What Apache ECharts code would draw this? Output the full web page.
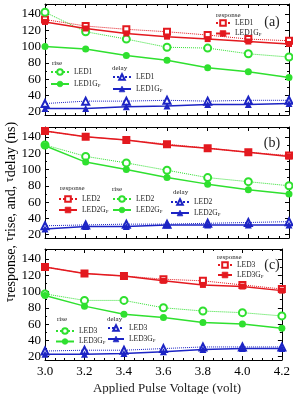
<!DOCTYPE html>
<html>
<head>
<meta charset="utf-8">
<script src="https://cdn.jsdelivr.net/npm/echarts@6/dist/echarts.min.js"></script>
<style>
  html, body { margin: 0; padding: 0; background: #fff; }
  #chart { width: 293px; height: 394px; }
</style>
</head>
<body>
<div id="chart"></div>
<script>
const voltages = [3.0, 3.2, 3.4, 3.6, 3.8, 4.0, 4.2]
const yLabelValues = [20, 40, 60, 80, 100, 120, 140]
const yMinorValues = [30, 50, 70, 90, 110, 130, 150]

// panel (a)
const respLED1 = [133, 125, 121, 118, 114, 109, 107]
const respLED1G = [130, 122, 116, 112, 109, 106, 103]
const riseLED1 = [142, 118, 109, 99, 98, 91, 87]
const riseLED1G = [100, 97, 89, 83, 74, 69, 62]
const delayLED1 = [30, 33, 33, 34, 33, 34, 34]
const delayLED1G = [24, 24, 26, 27, 29, 29, 30]

// panel (b)
const respLED2 = [147, 140, 136, 131, 126, 121, 117]
const respLED2G = [147, 140, 136, 130, 126, 121, 116]
const riseLED2 = [130, 116, 108, 99, 90, 85, 80]
const riseLED2G = [129, 109, 100, 90, 82, 75, 70]
const delayLED2 = [31, 32, 33, 33, 34, 35, 36]
const delayLED2G = [27, 30, 30, 32, 32, 32, 32]

// panel (c)
const respLED3 = [130, 122, 119, 115, 113, 108, 103]
const respLED3G = [130, 122, 119, 113, 108, 106, 101]
const riseLED3 = [97, 89, 89, 80, 76, 74, 70]
const riseLED3G = [95, 82, 72, 68, 62, 60, 55]
const delayLED3 = [27, 28, 28, 30, 32, 32, 32]
const delayLED3G = [23, 23, 24, 26, 29, 30, 30]

const FONT = 'Liberation Serif'
const RED = '#e3191f'
const GREEN = '#2fe02f'
const BLUE = '#1c24c4'
const gridTops = [4, 127, 249]

const pairs = (vals) => voltages.map((v, i) => [v, vals[i]])

const grid = gridTops.map(t => ({ left: 45, width: 244, top: t, height: 111 }))

const xAxis = []
const yAxis = []
gridTops.forEach((t, g) => {
  ['bottom', 'top'].forEach(pos => {
    xAxis.push({
      gridIndex: g,
      type: 'value',
      position: pos,
      min: 3,
      max: 4.2,
      interval: 0.2,
      axisLine: { show: true, onZero: false, lineStyle: { color: '#000', width: 1 } },
      axisTick: { show: true, inside: true, length: 4, lineStyle: { color: '#000' } },
      minorTick: { show: true, splitNumber: 4, length: 2, lineStyle: { color: '#000' } },
      axisLabel: {
        show: g === 2 && pos === 'bottom',
        fontFamily: FONT,
        fontSize: 13,
        color: '#000',
        margin: 5,
        formatter: v => v.toFixed(1)
      },
      splitLine: { show: false }
    })
  });
  ['left', 'right'].forEach(pos => {
    yAxis.push({
      gridIndex: g,
      type: 'value',
      position: pos,
      min: 16,
      max: 152,
      axisLine: { show: true, lineStyle: { color: '#000', width: 1 } },
      axisTick: { show: true, inside: true, length: 4, customValues: yLabelValues, lineStyle: { color: '#000' } },
      axisLabel: {
        show: pos === 'left',
        customValues: yLabelValues,
        fontFamily: FONT,
        fontSize: 13,
        color: '#000',
        margin: 4
      },
      splitLine: { show: false }
    })
    yAxis.push({
      gridIndex: g,
      type: 'value',
      position: pos,
      min: 16,
      max: 152,
      axisLine: { show: false },
      axisTick: { show: true, inside: true, length: 2, customValues: yMinorValues, lineStyle: { color: '#000' } },
      axisLabel: { show: false },
      splitLine: { show: false }
    })
  })
})

const labels = {}
const series = []
function addSeries (name, label, g, vals, color, symbol, hollow, size) {
  labels[name] = label
  series.push({
    name,
    type: 'line',
    xAxisIndex: g * 2,
    yAxisIndex: g * 4,
    data: pairs(vals),
    symbol,
    symbolSize: size,
    color,
    lineStyle: { color, width: hollow ? 1 : 1.5, type: hollow ? 'dotted' : 'solid' },
    itemStyle: { color, borderColor: color, borderWidth: hollow ? 0.8 : 0 },
    clip: false,
    z: hollow ? 2 : 3
  })
}

const sets = [
  ['1', [respLED1, respLED1G, riseLED1, riseLED1G, delayLED1, delayLED1G]],
  ['2', [respLED2, respLED2G, riseLED2, riseLED2G, delayLED2, delayLED2G]],
  ['3', [respLED3, respLED3G, riseLED3, riseLED3G, delayLED3, delayLED3G]]
]
sets.forEach(([n, d], g) => {
  addSeries('resp' + n, 'LED' + n, g, d[0], RED, 'emptyRect', true, 6)
  addSeries('respG' + n, 'LED' + n + 'G{p|P}', g, d[1], RED, 'rect', false, 6)
  addSeries('rise' + n, 'LED' + n, g, d[2], GREEN, 'emptyCircle', true, 7)
  addSeries('riseG' + n, 'LED' + n + 'G{p|P}', g, d[3], GREEN, 'circle', false, 7)
  addSeries('delay' + n, 'LED' + n, g, d[4], BLUE, 'emptyTriangle', true, 7)
  addSeries('delayG' + n, 'LED' + n + 'G{p|P}', g, d[5], BLUE, 'triangle', false, 7)
})

function legend (left, top, names, itemWidth, gap) {
  return {
    left,
    top,
    orient: 'vertical',
    padding: 0,
    itemWidth,
    itemHeight: 7,
    itemGap: gap,
    selectedMode: false,
    data: names,
    itemStyle: { borderWidth: 0.8 },
    formatter: name => labels[name],
    textStyle: {
      fontFamily: FONT,
      fontSize: 7.5,
      lineHeight: 8,
      color: '#222',
      rich: { p: { fontSize: 5, lineHeight: 8, verticalAlign: 'bottom', padding: [4, 0, 0, 0] } }
    }
  }
}

const legends = [
  legend(215, 19, ['resp1', 'respG1'], 14, 1.5),
  legend(50, 68, ['rise1', 'riseG1'], 18, 3),
  legend(112, 73, ['delay1', 'delayG1'], 18, 3),
  legend(58, 195, ['resp2', 'respG2'], 18, 2),
  legend(112, 195, ['rise2', 'riseG2'], 18, 2),
  legend(170, 198, ['delay2', 'delayG2'], 18, 2),
  legend(217, 261, ['resp3', 'respG3'], 14, 1),
  legend(55, 327, ['rise3', 'riseG3'], 18, 1.5),
  legend(107, 324, ['delay3', 'delayG3'], 16, 2)
]

function txt (x, y, text, size, align) {
  return {
    type: 'text',
    x,
    y,
    style: { text, fontFamily: FONT, fontSize: size, fill: '#222', align: align || 'left', verticalAlign: 'middle' }
  }
}

const graphic = [
  txt(216, 15, 'response', 7), txt(52, 63, 'rise', 7), txt(112, 68, 'delay', 7),
  txt(60, 188, 'response', 7), txt(112, 189, 'rise', 7), txt(173, 192, 'delay', 7),
  txt(217, 257, 'response', 7), txt(57, 319, 'rise', 7), txt(107, 319, 'delay', 7),
  txt(272, 22, '(a)', 14, 'center'), txt(272, 143, '(b)', 14, 'center'), txt(272, 265, '(c)', 14, 'center'),
  txt(167, 389, 'Applied Pulse Voltage (volt)', 13, 'center'),
  {
    type: 'text',
    x: 11,
    y: 212,
    rotation: Math.PI / 2,
    style: {
      text: '{t|τ}{n|response, }{t|τ}{n|rise, and, }{t|τ}{n|delay (ns)}',
      align: 'center',
      verticalAlign: 'middle',
      fill: '#000',
      rich: {
        t: { fontFamily: FONT, fontSize: 12, lineHeight: 12, verticalAlign: 'top' },
        n: { fontFamily: FONT, fontSize: 14, lineHeight: 14, verticalAlign: 'bottom', padding: [4, 0, 0, 0] }
      }
    }
  }
]

const chart = echarts.init(document.getElementById('chart'))
chart.setOption({
  animation: false,
  backgroundColor: '#fff',
  grid,
  xAxis,
  yAxis,
  legend: legends,
  graphic,
  series
})
</script>
</body>
</html>
